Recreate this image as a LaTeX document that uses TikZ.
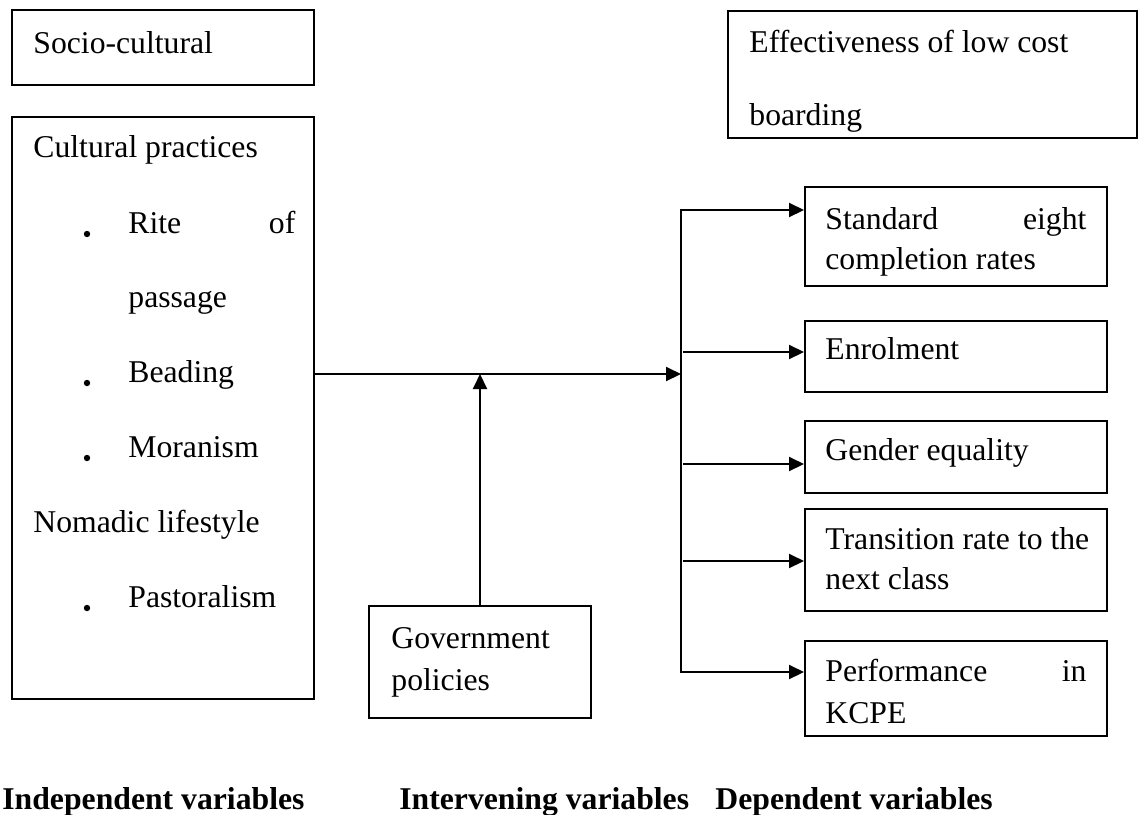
\documentclass[tikz,border=0pt]{standalone}
\usepackage{fontspec}
\setmainfont{Liberation Serif}
\usetikzlibrary{fit,arrows.meta}

\begin{document}
\begin{tikzpicture}[x=0.5pt, y=-0.5pt, font=\fontsize{15.85}{19}\selectfont]
    % styles
    \tikzstyle{box}=[draw, line width=1pt, inner sep=0pt]
    \tikzstyle{txt}=[inner sep=0pt, anchor=base west]
    \tikzstyle{head}=[inner sep=0pt, anchor=base west, font=\fontsize{15.85}{19}\selectfont\bfseries]
    \tikzstyle{arrowstyle}=[line width=1pt, -{Triangle[length=7.5pt, width=7pt]}]

    \useasboundingbox (0,0) rectangle (1138,814);

    % 1. boxes
    \node[box, fit={(12,10) (314,85)}] (socio) {};
    \node[box, fit={(12,117) (314,699)}] (cult) {};
    \node[box, fit={(728,11) (1137,138)}] (eff) {};
    \node[box, fit={(369,606) (591,718)}] (gov) {};
    \node[box, fit={(805,187) (1107,286)}] (std) {};
    \node[box, fit={(805,321) (1107,392)}] (enr) {};
    \node[box, fit={(805,421) (1107,493)}] (gen) {};
    \node[box, fit={(805,509) (1107,611)}] (tra) {};
    \node[box, fit={(805,641) (1107,736)}] (perf) {};

    % 2. texts in the boxes
    \node[txt] (sociot) at (33,53) {Socio-cultural};
    \node[txt] (cult1) at (33,157) {Cultural practices};
    \node[txt] (cult2) at (128,233) {\hbox to 83.5pt{Rite\hfill of}};
    \node[txt] (cult3) at (128,307) {passage};
    \node[txt] (cult4) at (128,382) {Beading};
    \node[txt] (cult5) at (128,457) {Moranism};
    \node[txt] (cult6) at (33,532) {Nomadic lifestyle};
    \node[txt] (cult7) at (128,607) {Pastoralism};
    \foreach \y in {233,382,457,607}
        \fill (87,\y+1) circle (1.6pt);

    \node[txt] (efft1) at (749,52) {Effectiveness of low cost};
    \node[txt] (efft2) at (749,125) {boarding};
    \node[txt] (govt1) at (391,648) {Government};
    \node[txt] (govt2) at (391,690) {policies};

    \node[txt] (stdt1) at (825,229) {\hbox to 130.5pt{Standard\hfill eight}};
    \node[txt] (stdt2) at (825,269) {completion rates};
    \node[txt] (enrt) at (825,359) {Enrolment};
    \node[txt] (gent) at (825,460) {Gender equality};
    \node[txt] (trat1) at (825,549) {Transition rate to the};
    \node[txt] (trat2) at (825,589) {next class};
    \node[txt] (perft1) at (825,681) {\hbox to 130.5pt{Performance\hfill in}};
    \node[txt] (perft2) at (825,723) {KCPE};

    % 3. variable labels
    \node[head] (indep) at (2,809) {Independent variables};
    \node[head] (interv) at (399,809) {Intervening variables};
    \node[head] (dep) at (715,809) {Dependent variables};

    % 4. arrows
    \coordinate (bus) at (681,374);
    \coordinate (bustop) at (681,210);
    \coordinate (busbot) at (681,672);
    \coordinate (e1) at (683,352);
    \coordinate (e2) at (683,464);
    \coordinate (e3) at (683,561);

    \draw[arrowstyle] (cult.east |- bus) -- (bus);
    \draw[arrowstyle] (gov.north) -- (gov.north |- bus);

    \draw[arrowstyle] (busbot) -- (bustop) -- (std.west |- bustop);
    \draw[arrowstyle] (bustop) -- (busbot) -- (perf.west |- busbot);
    \draw[arrowstyle] (e1) -- (enr.west |- e1);
    \draw[arrowstyle] (e2) -- (gen.west |- e2);
    \draw[arrowstyle] (e3) -- (tra.west |- e3);

\end{tikzpicture}
\end{document}
